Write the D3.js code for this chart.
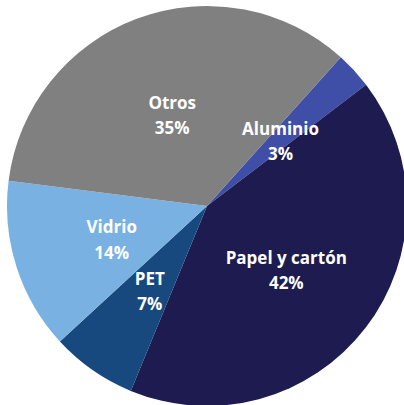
<!DOCTYPE html>
<html><head><meta charset="utf-8">
<script src="https://cdn.jsdelivr.net/npm/d3@7"></script>
<style>html,body{margin:0;padding:0;background:#fff;overflow:hidden}</style>
</head><body>
<svg id="c" width="404" height="405"></svg>
<script>
const categories = ["Aluminio", "Papel y cartón", "PET", "Vidrio", "Otros"];
const values = [3, 42, 7, 14, 35];
const labels = ["3%", "42%", "7%", "14%", "35%"];
const colors = ["#3f4ea6", "#1d1b50", "#17497f", "#78b1e2", "#808080"];

const svg = d3.select("#c");
const cx = 207, cy = 206, R = 200;
const data = categories.map((c, i) => ({name: c, value: values[i], label: labels[i], color: colors[i]}));
const start = 42 * Math.PI / 180;
const pie = d3.pie().value(d => d.value).sort(null).startAngle(start).endAngle(start + 2 * Math.PI);
const arc = d3.arc().innerRadius(0).outerRadius(R);
const g = svg.append("g").attr("transform", `translate(${cx},${cy})`);
const arcs = pie(data);
g.selectAll("path").data(arcs).join("path")
  .attr("d", arc).attr("fill", d => d.data.color);
const t = g.selectAll("text").data(arcs).join("text")
  .attr("transform", d => `translate(${arc.centroid(d)})`)
  .attr("text-anchor", "middle")
  .attr("fill", "#fff")
  .attr("font-family", "'Open Sans', sans-serif")
  .attr("font-weight", "bold")
  .attr("font-size", "17px");
t.append("tspan").attr("x", 0).attr("dy", "-0.2em").text(d => d.data.name);
t.append("tspan").attr("x", 0).attr("dy", "1.5em").text(d => d.data.label);
</script>
</body></html>
